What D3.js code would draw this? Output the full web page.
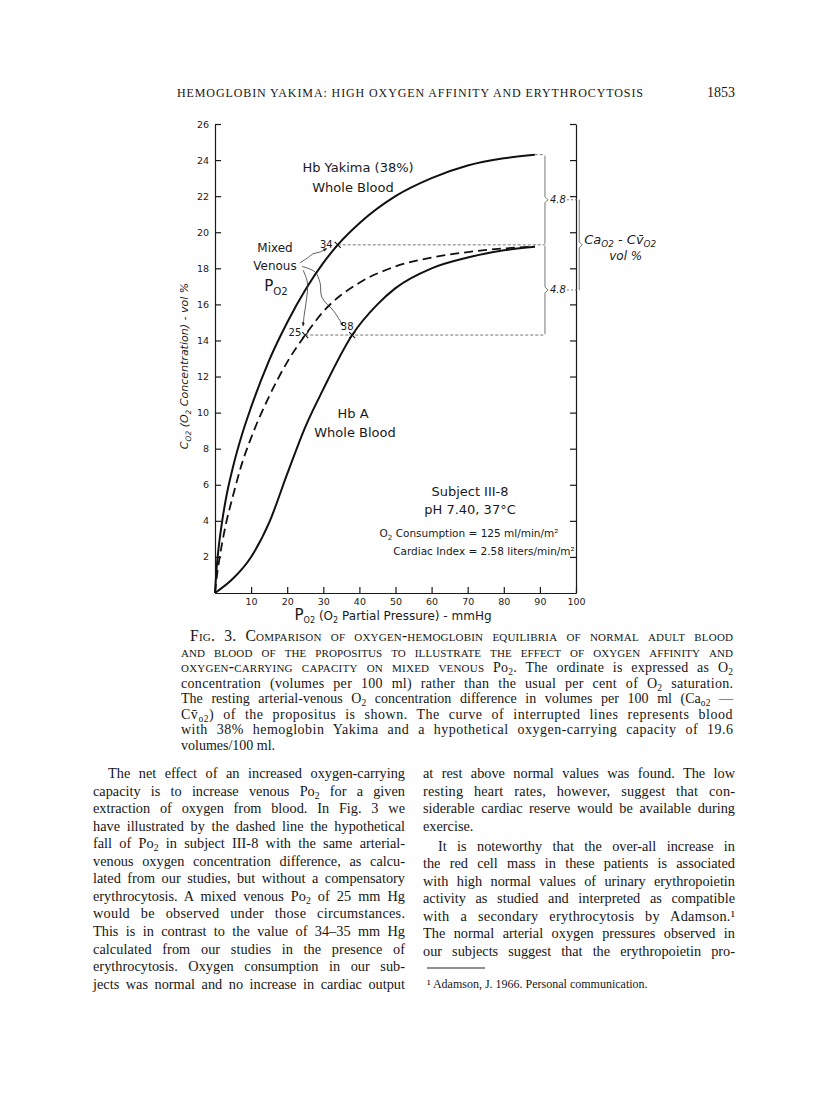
<!DOCTYPE html>
<meta charset="utf-8">
<style>
    body { margin: 0; background: #fff; }
    .serif { font-family: "Liberation Serif", "DejaVu Serif", serif; fill: #161616; }
    .lett { font-family: "DejaVu Sans", sans-serif; fill: #1a1a1a; }
    .axis path, .axis line { stroke: #1a1a1a; stroke-width: 1.2; }
    .axis text { font-family: "DejaVu Sans", sans-serif; font-size: 9.5px; fill: #1a1a1a; }
</style>
<body>
<script src="https://d3js.org/d3.v7.min.js"></script>
<script>

// ---- data ----
var po2Ticks = [10, 20, 30, 40, 50, 60, 70, 80, 90, 100];
var co2Ticks = [2, 4, 6, 8, 10, 12, 14, 16, 18, 20, 22, 24, 26];

// Hb Yakima (38%) whole blood
var yakimaPo2 = [0, 0.5, 1, 2, 3, 5, 7.5, 10, 15, 20, 25, 30, 34, 40, 50, 60, 70, 80, 88.6];
var yakimaCo2 = [0, 1.5, 2.5, 4.0, 5.2, 7.0, 8.8, 10.3, 12.9, 15.0, 16.8, 18.3, 19.3, 20.5, 22.0, 23.0, 23.7, 24.1, 24.3];

// hypothetical curve (interrupted line), capacity 19.6
var dashedPo2 = [0, 0.5, 1, 2, 3, 5, 7.5, 10, 15, 20, 25, 30, 40, 50, 60, 70, 80, 88.6];
var dashedCo2 = [0, 0.9, 1.6, 2.8, 3.8, 5.4, 7.2, 8.6, 10.9, 12.8, 14.3, 15.6, 17.2, 18.1, 18.6, 18.9, 19.1, 19.2];

// Hb A whole blood
var hbaPo2 = [0, 5, 10, 15, 20, 25, 30, 38, 45, 50, 60, 70, 80, 88.6];
var hbaCo2 = [0, 0.8, 2.0, 3.9, 6.6, 9.2, 11.3, 14.3, 16.0, 16.9, 18.0, 18.6, 19.0, 19.2];

// mixed venous points
var venousPo2 = [34, 25, 38];
var venousCo2 = [19.3, 14.3, 14.3];
var venousLabels = ["34", "25", "38"];

// arterial / venous levels for the a-v brackets
var arterialCo2 = 24.3;
var avDiffLabels = ["4.8", "4.8"];

// hand drawn leader lines from "Mixed Venous Po2" (po2, co2)
var leaderTo34 = [[23.5, 18.3], [25.8, 18.6], [27.1, 18.8], [29.0, 18.9], [31.0, 19.1]];
var leaderTo38 = [[24.1, 18.1], [27.7, 17.8], [29.1, 17.2], [29.6, 16.4], [33.0, 15.6], [35.5, 14.8]];
var leaderTo25 = [[24.4, 17.9], [25.6, 17.2], [25.3, 16.2], [24.7, 15.4], [24.4, 14.8]];

// ---- page text ----
var captionLines = [
    "[Fig. 3. Comparison of oxygen-hemoglobin equilibria of normal adult blood]",
    "[and blood of the propositus to illustrate the effect of oxygen affinity and]",
    "[oxygen-carrying capacity on mixed venous] Po_{2}. The ordinate is expressed as O_{2}",
    "concentration (volumes per 100 ml) rather than the usual per cent of O_{2} saturation.",
    "The resting arterial-venous O_{2} concentration difference in volumes per 100 ml (Ca_{o2} \u2014",
    "Cv\u0304_{o2}) of the propositus is shown. The curve of interrupted lines represents blood",
    "with 38% hemoglobin Yakima and a hypothetical oxygen-carrying capacity of 19.6",
    "volumes/100 ml."
];

var leftLines = [
    "The net effect of an increased oxygen-carrying",
    "capacity is to increase venous Po_{2} for a given",
    "extraction of oxygen from blood. In Fig. 3 we",
    "have illustrated by the dashed line the hypothetical",
    "fall of Po_{2} in subject III-8 with the same arterial-",
    "venous oxygen concentration difference, as calcu-",
    "lated from our studies, but without a compensatory",
    "erythrocytosis. A mixed venous Po_{2} of 25 mm Hg",
    "would be observed under those circumstances.",
    "This is in contrast to the value of 34\u201335 mm Hg",
    "calculated from our studies in the presence of",
    "erythrocytosis. Oxygen consumption in our sub-",
    "jects was normal and no increase in cardiac output"
];

var rightLines = [
    "at rest above normal values was found. The low",
    "resting heart rates, however, suggest that con-",
    "siderable cardiac reserve would be available during",
    "exercise.",
    "It is noteworthy that the over-all increase in",
    "the red cell mass in these patients is associated",
    "with high normal values of urinary erythropoietin",
    "activity as studied and interpreted as compatible",
    "with a secondary erythrocytosis by Adamson.\u00b9",
    "The normal arterial oxygen pressures observed in",
    "our subjects suggest that the erythropoietin pro-"
];

var footnote = "\u00b9 Adamson, J. 1966. Personal communication.";

// ---- helpers ----
function rich(sel, str, shift) {
    var parts = str.split(/(_\{[^}]*\}|\[[^\]]*\])/).filter(function (s) { return s.length; });
    var down = false;
    parts.forEach(function (p) {
        var t = sel.append("tspan");
        if (p.indexOf("_{") === 0) {
            t.text(p.slice(2, -1)).attr("dy", shift).style("font-size", "68%");
            down = true;
        } else {
            if (down) { t.attr("dy", -shift); down = false; }
            if (p.charAt(0) === "[") {
                t.style("font-variant", "small-caps").style("font-size", "112%").text(p.slice(1, -1));
            } else t.text(p);
        }
    });
    return sel;
}

// spread a line to the column width: spaces first, then letters if spaces get too wide
function justify(sel, str, width, maxWs) {
    var len = sel.node().getComputedTextLength();
    var plain = str.replace(/_\{([^}]*)\}/g, "$1").replace(/[\[\]]/g, "");
    var n = (plain.match(/ /g) || []).length;
    var extra = width - len;
    if (!n) return;
    var ws = extra / n;
    if (ws > maxWs) {
        ws = maxWs;
        sel.style("letter-spacing", ((extra - ws * n) / (plain.length - 1)) + "px");
    }
    sel.style("word-spacing", ws + "px");
}

function para(lines, x0, x1, y0, lh, size, opts) {
    lines.forEach(function (line, i) {
        var indent = opts.indent.indexOf(i) >= 0 ? opts.indentPx : 0;
        var extra = opts.gapAfter !== undefined && i > opts.gapAfter ? opts.gap : 0;
        var t = svg.append("text")
            .attr("class", "serif")
            .attr("x", x0 + indent)
            .attr("y", y0 + i * lh + extra)
            .style("font-size", size + "px");
        rich(t, line, size * 0.22);
        if (opts.ragged.indexOf(i) < 0) justify(t, line, x1 - x0 - indent, opts.maxWs);
    });
}

// ---- svg ----
var svg = d3.select("body").append("svg")
    .attr("width", 816)
    .attr("height", 1100);

svg.append("rect").attr("width", 816).attr("height", 1100).attr("fill", "#fff");

// running head
svg.append("text")
    .attr("class", "serif")
    .attr("x", 177).attr("y", 97)
    .style("font-size", "12px")
    .attr("textLength", 466)
    .attr("lengthAdjust", "spacing")
    .text("HEMOGLOBIN YAKIMA: HIGH OXYGEN AFFINITY AND ERYTHROCYTOSIS");

svg.append("text")
    .attr("class", "serif")
    .attr("x", 735).attr("y", 97)
    .attr("text-anchor", "end")
    .style("font-size", "14px")
    .text("1853");

// ---- chart ----
var x = d3.scaleLinear().domain([0, 100]).range([215, 576]),
    y = d3.scaleLinear().domain([0, 26]).range([593, 124]);

var chart = svg.append("g").attr("id", "chart");

chart.append("g")
    .attr("class", "axis")
    .attr("transform", "translate(0," + y(0) + ")")
    .call(d3.axisBottom(x).tickValues(po2Ticks).tickSizeInner(-6).tickSizeOuter(0).tickPadding(5));

chart.append("g")
    .attr("class", "axis")
    .attr("transform", "translate(" + x(0) + ",0)")
    .call(d3.axisLeft(y).tickValues(co2Ticks).tickSizeInner(-6).tickSizeOuter(0).tickPadding(6));

chart.append("g")
    .attr("class", "axis")
    .attr("transform", "translate(" + x(100) + ",0)")
    .call(d3.axisRight(y).tickValues(co2Ticks).tickSizeInner(-6).tickSizeOuter(0).tickFormat(""));

var line = d3.line()
    .x(function (d) { return x(d[0]); })
    .y(function (d) { return y(d[1]); })
    .curve(d3.curveMonotoneX);

var curves = chart.append("g").attr("id", "curves").attr("fill", "none");

curves.append("path")
    .attr("d", line(d3.zip(yakimaPo2, yakimaCo2)))
    .attr("stroke", "#111").attr("stroke-width", 2);

curves.append("path")
    .attr("d", line(d3.zip(dashedPo2, dashedCo2)))
    .attr("stroke", "#111").attr("stroke-width", 1.8)
    .attr("stroke-dasharray", "9,5");

curves.append("path")
    .attr("d", line(d3.zip(hbaPo2, hbaCo2)))
    .attr("stroke", "#111").attr("stroke-width", 2);

// a-v bracket positions
var bx = 91.4, bx2 = 100.9;
var levels = [arterialCo2, venousCo2[0], venousCo2[1]];

var guides = chart.append("g").attr("fill", "none").attr("stroke", "#666")
    .attr("stroke-width", 0.9);

// dotted level lines from the points to the bracket
guides.append("line")
    .attr("x1", x(yakimaPo2[yakimaPo2.length - 1])).attr("x2", x(bx))
    .attr("y1", y(arterialCo2)).attr("y2", y(arterialCo2))
    .attr("stroke-dasharray", "3,2");
guides.append("line")
    .attr("x1", x(venousPo2[0])).attr("x2", x(bx))
    .attr("y1", y(venousCo2[0])).attr("y2", y(venousCo2[0]))
    .attr("stroke-dasharray", "3,2");
guides.append("line")
    .attr("x1", x(venousPo2[1])).attr("x2", x(bx))
    .attr("y1", y(venousCo2[1])).attr("y2", y(venousCo2[1]))
    .attr("stroke-dasharray", "3,2");

// two stacked brackets
var mids = [];
[0, 1].forEach(function (i) {
    var ya = y(levels[i]), yb = y(levels[i + 1]), ym = (ya + yb) / 2;
    mids.push(ym);
    guides.append("path")
        .attr("d", "M" + x(bx) + "," + (ya + 1) + "V" + (ym - 3) + "L" + (x(bx) + 3) + "," + ym +
            "L" + x(bx) + "," + (ym + 3) + "V" + (yb - 1));
    chart.append("text")
        .attr("class", "lett")
        .attr("x", x(bx) + 5).attr("y", ym + 3.5)
        .style("font-size", "10px").style("font-style", "italic")
        .text(avDiffLabels[i]);
    guides.append("line")
        .attr("x1", x(bx) + 22).attr("x2", x(bx2))
        .attr("y1", ym).attr("y2", ym)
        .attr("stroke-dasharray", "2,2");
});

// outer bracket
var ymm = (mids[0] + mids[1]) / 2;
guides.append("path")
    .attr("d", "M" + x(bx2) + "," + mids[0] + "V" + (ymm - 3) + "L" + (x(bx2) + 3) + "," + ymm +
        "L" + x(bx2) + "," + (ymm + 3) + "V" + mids[1]);

var avLabel = chart.append("text")
    .attr("class", "lett")
    .attr("x", x(bx2) + 5).attr("y", ymm - 1)
    .style("font-size", "13px").style("font-style", "italic");
rich(avLabel, "Ca_{O2} - Cv\u0304_{O2}", 3);

chart.append("text")
    .attr("class", "lett")
    .attr("x", x(bx2) + 30).attr("y", ymm + 15)
    .style("font-size", "12px").style("font-style", "italic")
    .text("vol %");

// mixed venous points
var pts = chart.append("g");
venousPo2.forEach(function (p, i) {
    var cx = x(p), cy = y(venousCo2[i]);
    pts.append("path")
        .attr("d", "M" + (cx - 3) + "," + (cy - 3) + "L" + (cx + 3) + "," + (cy + 3) +
            "M" + (cx - 3) + "," + (cy + 3) + "L" + (cx + 3) + "," + (cy - 3))
        .attr("stroke", "#111").attr("stroke-width", 1.1);
});

var ptLabel = chart.append("g").attr("class", "lett").style("font-size", "10px");
ptLabel.append("text").attr("x", x(venousPo2[0]) - 5).attr("y", y(venousCo2[0]) + 3)
    .attr("text-anchor", "end").text(venousLabels[0]);
ptLabel.append("text").attr("x", x(venousPo2[1]) - 4).attr("y", y(venousCo2[1]) + 1)
    .attr("text-anchor", "end").text(venousLabels[1]);
ptLabel.append("text").attr("x", x(venousPo2[2]) - 5).attr("y", y(venousCo2[2]) - 5)
    .attr("text-anchor", "middle").text(venousLabels[2]);

// leader lines with arrow heads
svg.append("defs").append("marker")
    .attr("id", "arr")
    .attr("viewBox", "0 0 10 10")
    .attr("refX", 9).attr("refY", 5)
    .attr("markerWidth", 5).attr("markerHeight", 5)
    .attr("orient", "auto")
    .append("path").attr("d", "M0,1L10,5L0,9Z").attr("fill", "#222");

var leader = d3.line()
    .x(function (d) { return x(d[0]); })
    .y(function (d) { return y(d[1]); })
    .curve(d3.curveCatmullRom);

[leaderTo34, leaderTo38, leaderTo25].forEach(function (pts) {
    chart.append("path")
        .attr("d", leader(pts))
        .attr("fill", "none").attr("stroke", "#333").attr("stroke-width", 0.8)
        .attr("marker-end", "url(#arr)");
});

// curve and box labels
var lab = chart.append("g").attr("class", "lett").attr("text-anchor", "middle");
lab.append("text").attr("x", 358).attr("y", 172).style("font-size", "13px").text("Hb Yakima (38%)");
lab.append("text").attr("x", 353).attr("y", 192).style("font-size", "13px").text("Whole Blood");
lab.append("text").attr("x", 275).attr("y", 252).style("font-size", "12px").text("Mixed");
lab.append("text").attr("x", 275).attr("y", 270).style("font-size", "12px").text("Venous");
rich(lab.append("text").attr("x", 276).attr("y", 291).style("font-size", "15px"), "P_{O2}", 4);
lab.append("text").attr("x", 353).attr("y", 418).style("font-size", "13px").text("Hb A");
lab.append("text").attr("x", 355).attr("y", 437).style("font-size", "13px").text("Whole Blood");

lab.append("text").attr("x", 470).attr("y", 496).style("font-size", "13px").text("Subject III-8");
lab.append("text").attr("x", 470).attr("y", 514).style("font-size", "13px").text("pH 7.40, 37\u00b0C");
rich(lab.append("text").attr("x", 469).attr("y", 537).style("font-size", "10.5px"),
    "O_{2} Consumption = 125 ml/min/m\u00b2", 3);
lab.append("text").attr("x", 484).attr("y", 555).style("font-size", "10.5px")
    .text("Cardiac Index = 2.58 liters/min/m\u00b2");

// axis titles
rich(chart.append("text").attr("class", "lett")
    .attr("text-anchor", "middle")
    .attr("transform", "translate(188,366) rotate(-90)")
    .style("font-size", "11px").style("font-style", "italic"),
    "C_{O2} (O_{2} Concentration) - vol %", 3);

var xt = chart.append("text").attr("class", "lett")
    .attr("text-anchor", "middle")
    .attr("x", 393).attr("y", 620)
    .style("font-size", "12px");
rich(xt, "P_{O2} (O_{2} Partial Pressure) - mmHg", 3);
xt.select("tspan").style("font-size", "15px");

// ---- caption and body ----
para(captionLines, 181, 733, 641, 15.5, 14, { indent: [0], indentPx: 9, ragged: [7], maxWs: 5 });
para(leftLines, 93, 405, 778, 17.55, 14.3, { indent: [0], indentPx: 15, ragged: [], maxWs: 7 });
para(rightLines, 423, 735, 778, 17.55, 14.3,
    { indent: [4], indentPx: 15, ragged: [3], gapAfter: 3, gap: 2.5, maxWs: 7 });

svg.append("line")
    .attr("x1", 427).attr("x2", 485)
    .attr("y1", 968).attr("y2", 968)
    .attr("stroke", "#222").attr("stroke-width", 1);

svg.append("text")
    .attr("class", "serif")
    .attr("x", 427).attr("y", 988)
    .style("font-size", "12px")
    .text(footnote);

</script>
</body>
